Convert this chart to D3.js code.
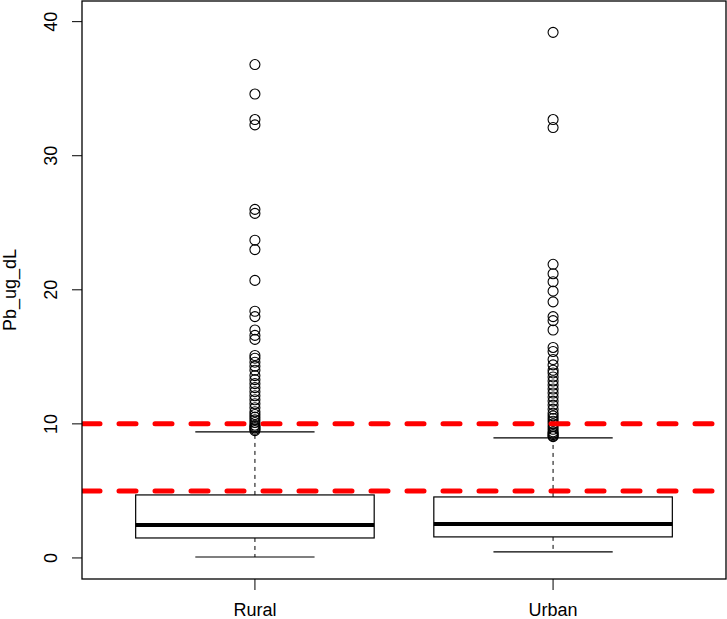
<!DOCTYPE html>
<html>
<head>
<meta charset="utf-8">
<script src="https://cdn.jsdelivr.net/npm/d3@7"></script>
<style>
  body { margin: 0; background: #fff; }
  text { font-family: "Liberation Sans", Arial, sans-serif; }
</style>
</head>
<body>
<div class="chart"></div>
<script>
var categories = ["Rural", "Urban"];

// box stats: lower whisker, Q1, median, Q3, upper whisker
var lowWhisker = [0.07, 0.45];
var q1 = [1.49, 1.57];
var medians = [2.46, 2.54];
var q3 = [4.70, 4.55];
var highWhisker = [9.4, 8.95];

var ruralOutliers = [36.8, 34.6, 32.7, 32.3, 26.0, 25.7, 23.7, 23.0, 20.7,
  18.4, 18.0, 17.0, 16.6, 16.3, 15.1, 14.9, 14.6, 14.3, 14.0, 13.6, 13.3, 13.0,
  12.7, 12.4, 12.1, 11.8, 11.5, 11.2, 10.9, 10.7, 10.5, 10.3, 10.1, 9.9, 9.8,
  9.7, 9.6, 9.5];
var urbanOutliers = [39.2, 32.7, 32.1, 21.9, 21.2, 20.6, 19.9, 19.1, 18.0,
  17.7, 17.0, 15.7, 15.4, 14.8, 14.4, 14.0, 13.8, 13.5, 13.2, 12.9, 12.6, 12.3,
  12.0, 11.7, 11.4, 11.1, 10.8, 10.6, 10.4, 10.2, 10.0, 9.8, 9.6, 9.4, 9.3,
  9.2, 9.1, 9.05];
var outliers = [ruralOutliers, urbanOutliers];

var yTicks = [0, 10, 20, 30, 40];
var refLines = [10, 5];
var yLabel = "Pb_ug_dL";

// plot region (window.top is read-only, so no plain "top")
var plotL = 82, plotR = 726, plotT = 1, plotB = 579;

var svg = d3.select('.chart').append('svg')
  .attr('width', 727)
  .attr('height', 619);

var x = d3.scaleLinear().domain([0.42, 2.58]).range([plotL, plotR]);
var y = d3.scaleLinear().domain([-1.57, 41.54]).range([plotB, plotT]);
var halfBox = (x(1.4) - x(1));
var halfStaple = halfBox / 2;

svg.append('clipPath').attr('id', 'plotclip')
  .append('rect')
  .attr('x', plotL).attr('y', plotT)
  .attr('width', plotR - plotL).attr('height', plotB - plotT);

var plot = svg.append('g');

categories.forEach(function(c, i) {
  var cx = x(i + 1);
  var g = plot.append('g');

  // dashed whiskers
  g.append('line')
    .attr('x1', cx).attr('x2', cx)
    .attr('y1', y(q3[i])).attr('y2', y(highWhisker[i]))
    .attr('stroke', '#000').attr('stroke-dasharray', '4,4');
  g.append('line')
    .attr('x1', cx).attr('x2', cx)
    .attr('y1', y(q1[i])).attr('y2', y(lowWhisker[i]))
    .attr('stroke', '#000').attr('stroke-dasharray', '4,4');

  // staples
  [lowWhisker[i], highWhisker[i]].forEach(function(v) {
    g.append('line')
      .attr('x1', cx - halfStaple).attr('x2', cx + halfStaple)
      .attr('y1', y(v)).attr('y2', y(v))
      .attr('stroke', '#000').attr('stroke-width', 1.2);
  });

  // box
  g.append('rect')
    .attr('x', cx - halfBox).attr('width', 2 * halfBox)
    .attr('y', y(q3[i])).attr('height', y(q1[i]) - y(q3[i]))
    .attr('fill', '#fff').attr('stroke', '#000').attr('stroke-width', 1.2);

  // median
  g.append('line')
    .attr('x1', cx - halfBox).attr('x2', cx + halfBox)
    .attr('y1', y(medians[i])).attr('y2', y(medians[i]))
    .attr('stroke', '#000').attr('stroke-width', 4);

  // outliers
  g.selectAll('circle').data(outliers[i]).enter().append('circle')
    .attr('cx', cx)
    .attr('cy', function(d) { return y(d); })
    .attr('r', 5)
    .attr('fill', 'none')
    .attr('stroke', '#000')
    .attr('stroke-width', 1.1);
});

// red reference lines
svg.append('g').attr('clip-path', 'url(#plotclip)')
  .selectAll('line').data(refLines).enter().append('line')
  .attr('x1', plotL + 1).attr('x2', plotR + 20)
  .attr('y1', function(d) { return y(d); })
  .attr('y2', function(d) { return y(d); })
  .attr('stroke', '#f00')
  .attr('stroke-width', 5)
  .attr('stroke-linecap', 'round')
  .attr('stroke-dasharray', '17,19');

// frame
svg.append('rect')
  .attr('x', plotL).attr('y', plotT)
  .attr('width', plotR - plotL).attr('height', plotB - plotT)
  .attr('fill', 'none').attr('stroke', '#000').attr('stroke-width', 1.3);

// y axis
var yAxis = svg.append('g');
yAxis.selectAll('.tick').data(yTicks).enter().append('line')
  .attr('x1', plotL - 10).attr('x2', plotL)
  .attr('y1', function(d) { return y(d); })
  .attr('y2', function(d) { return y(d); })
  .attr('stroke', '#000');
yAxis.selectAll('text').data(yTicks).enter().append('text')
  .attr('transform', function(d) { return 'translate(57,' + y(d) + ') rotate(-90)'; })
  .attr('text-anchor', 'middle')
  .attr('font-size', 18)
  .text(function(d) { return d; });

svg.append('text')
  .attr('transform', 'translate(16,' + ((plotT + plotB) / 2) + ') rotate(-90)')
  .attr('text-anchor', 'middle')
  .attr('font-size', 18)
  .text(yLabel);

// x axis
var xAxis = svg.append('g');
xAxis.selectAll('line').data(categories).enter().append('line')
  .attr('x1', function(d, i) { return x(i + 1); })
  .attr('x2', function(d, i) { return x(i + 1); })
  .attr('y1', plotB).attr('y2', plotB + 11)
  .attr('stroke', '#000');
xAxis.selectAll('text').data(categories).enter().append('text')
  .attr('x', function(d, i) { return x(i + 1); })
  .attr('y', 616)
  .attr('text-anchor', 'middle')
  .attr('font-size', 18)
  .text(function(d) { return d; });
</script>
</body>
</html>
